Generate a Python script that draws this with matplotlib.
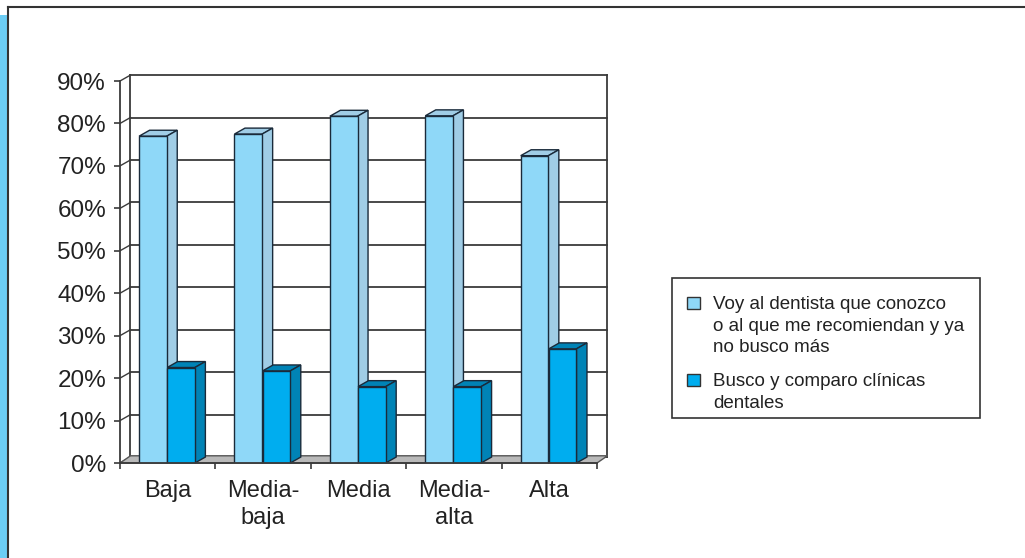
import matplotlib.pyplot as plt
from matplotlib.patches import Polygon, Rectangle
from matplotlib.lines import Line2D

plt.rcParams['font.family'] = ['Liberation Sans', 'DejaVu Sans']

categories = ['Baja', 'Media-\nbaja', 'Media', 'Media-\nalta', 'Alta']
conozco = [77, 77.5, 81.7, 81.8, 72.4]
comparo = [22.5, 21.7, 18, 18, 26.9]
legend_labels = [
    ['Voy al dentista que conozco', 'o al que me recomiendan y ya', 'no busco más'],
    ['Busco y comparo clínicas', 'dentales'],
]

light_front = '#8fd8f8'
light_side = '#a0cde6'
dark_front = '#00adef'
dark_side = '#0083b6'
edge = '#1a2a3a'
line_c = '#3a3a3a'

W, H = 1025, 558
fig = plt.figure(figsize=(W / 100, H / 100), dpi=100)
ax = fig.add_axes([120 / W, 95 / H, 477 / W, 382 / H])

# depth offset of the fake 3d (in data units)
DX = 0.11
DY = 1.4
bw = 0.29

ax.set_xlim(-0.5, 4.5)
ax.set_ylim(0, 90)

# back wall + floor
for v in range(0, 100, 10):
    ax.plot([-0.5 + DX, 4.5 + DX], [v + DY, v + DY], color=line_c, lw=1.3,
            zorder=1, clip_on=False)
    ax.plot([-0.5, -0.5 + DX], [v, v + DY], color=line_c, lw=1.0,
            zorder=1, clip_on=False)
ax.plot([-0.5 + DX, -0.5 + DX], [DY, 90 + DY], color=line_c, lw=1.3, zorder=1, clip_on=False)
ax.plot([4.5 + DX, 4.5 + DX], [DY, 90 + DY], color=line_c, lw=1.3, zorder=1, clip_on=False)
floor = Polygon([(-0.5, 0), (-0.5 + DX, DY + 0.3), (4.5 + DX, DY + 0.3), (4.5, 0)], closed=True,
                facecolor='#b9b9b9', edgecolor='#555555', lw=1.0, zorder=1.5, clip_on=False)
ax.add_patch(floor)


def bars3d(xs, vals, front, side, z):
    rects = ax.bar(xs, vals, width=bw, color=front, edgecolor=edge, lw=1.0, zorder=z + 0.2)
    for r in rects:
        x0 = r.get_x()
        x1 = x0 + r.get_width()
        v = r.get_height()
        top = Polygon([(x0, v), (x0 + DX, v + DY), (x1 + DX, v + DY), (x1, v)],
                      closed=True, facecolor=side, edgecolor=edge, lw=1.0, zorder=z,
                      clip_on=False)
        sd = Polygon([(x1, 0), (x1, v), (x1 + DX, v + DY), (x1 + DX, DY)],
                     closed=True, facecolor=side, edgecolor=edge, lw=1.0, zorder=z,
                     clip_on=False)
        ax.add_patch(top)
        ax.add_patch(sd)


pos = list(range(len(categories)))
bars3d([p - 0.155 for p in pos], conozco, light_front, light_side, 3)
bars3d([p + 0.14 for p in pos], comparo, dark_front, dark_side, 4)

for s in ['top', 'right']:
    ax.spines[s].set_visible(False)
for s in ['left', 'bottom']:
    ax.spines[s].set_color(line_c)
    ax.spines[s].set_linewidth(1.3)
    ax.spines[s].set_zorder(6)

ax.set_yticks(range(0, 100, 10))
ax.set_yticklabels([f'{v}%' for v in range(0, 100, 10)])
ax.tick_params(axis='y', length=4, width=1.2, color=line_c, pad=6,
               labelsize=17.5, labelcolor='#222222')
ax.set_xticks(pos)
ax.set_xticklabels(categories)
ax.set_xticks([p - 0.5 for p in range(len(categories) + 1)], minor=True)
ax.tick_params(axis='x', which='major', length=0, pad=12, labelsize=17,
               labelcolor='#222222')
ax.tick_params(axis='x', which='minor', length=4, width=1.2, color=line_c)
for t in ax.get_xticklabels():
    t.set_linespacing(1.3)

# legend box drawn by hand so the marker sits on the first line
fig.add_artist(Rectangle((672 / W, 1 - 418 / H), 308 / W, 140 / H, transform=fig.transFigure,
                         facecolor='white', edgecolor='#333333', lw=1.2))
swatches = [light_front, dark_front]
marker_y = [303, 380]
for col, my, lines in zip(swatches, marker_y, legend_labels):
    fig.add_artist(Rectangle((687 / W, 1 - (my + 6) / H), 13 / W, 12 / H,
                             transform=fig.transFigure, facecolor=col,
                             edgecolor='#333333', lw=1.0))
    for i, ln in enumerate(lines):
        fig.text(713 / W, 1 - (my + 6 + i * 21.7) / H, ln, fontsize=13.5,
                 color='#222222', va='baseline', ha='left')

# page frame
fig.add_artist(Rectangle((0, 0), 7 / W, (H - 15) / H, transform=fig.transFigure,
                         facecolor='#6ccdf4', edgecolor='none'))
fig.add_artist(Line2D([7.5 / W, 7.5 / W], [0, 1 - 7 / H], transform=fig.transFigure,
                      color='#333333', lw=1.5))
fig.add_artist(Line2D([7.5 / W, 1], [1 - 7 / H, 1 - 7 / H], transform=fig.transFigure,
                      color='#333333', lw=1.5))

fig.savefig('out.png', dpi=100)
